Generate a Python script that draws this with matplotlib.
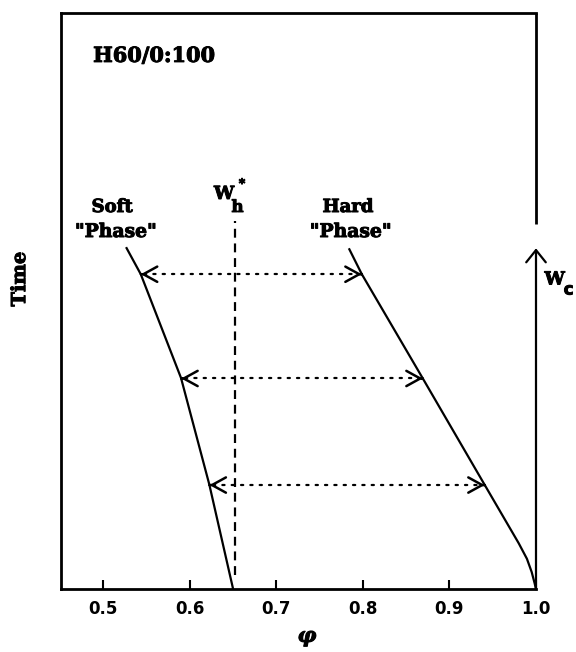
import numpy as np
import matplotlib
matplotlib.use("Agg")
import matplotlib.pyplot as plt
import matplotlib.patheffects as pe

# Composition curves: volume fraction phi versus (normalised) time
soft_phi = [0.650, 0.6224, 0.5897, 0.5432, 0.5262]
soft_time = [0.000, 0.182, 0.367, 0.547, 0.594]

hard_phi = [1.000, 0.9985, 0.9950, 0.9895, 0.9800, 0.9408, 0.8692, 0.7987, 0.7837]
hard_time = [0.000, 0.010, 0.030, 0.053, 0.080, 0.181, 0.366, 0.547, 0.592]

# Tie lines between the two phases
tie_times = [0.547, 0.366, 0.181]

# Critical composition W_h* (dashed) and the W_c axis
wh_star = 0.652
wh_span = [0.025, 0.64]
wc_arrow_top = 0.592
wc_line_bottom = 0.635

xticks = [0.5, 0.6, 0.7, 0.8, 0.9, 1.0]
xtick_labels = ["0.5", "0.6", "0.7", "0.8", "0.9", "1.0"]

serif = "DejaVu Serif"
sans = "DejaVu Sans"
heavy = [pe.withStroke(linewidth=0.7, foreground="black")]

fig = plt.figure(figsize=(5.76, 6.52), dpi=100)
ax = fig.add_axes([61 / 576, 1 - 589.3 / 652, 475 / 576, 576 / 652])
ax.set_xlim(0.451, 1.0)
ax.set_ylim(0, 1)

# curves
ax.plot(soft_phi, soft_time, color="black", lw=1.6, solid_capstyle="butt",
        solid_joinstyle="round")
ax.plot(hard_phi, hard_time, color="black", lw=1.6, solid_capstyle="butt",
        solid_joinstyle="round")

# dashed W_h* line
ax.plot([wh_star, wh_star], wh_span, color="black", lw=1.6,
        linestyle=(0, (4, 2.6)))


def phi_at(phis, times, t):
    order = np.argsort(times)
    return float(np.interp(t, np.asarray(times)[order], np.asarray(phis)[order]))


head = dict(arrowstyle="->,head_length=0.4,head_width=0.22", color="black",
            lw=1.8, shrinkA=0, shrinkB=0, mutation_scale=25)
for t in tie_times:
    xl = phi_at(soft_phi, soft_time, t)
    xr = phi_at(hard_phi, hard_time, t)
    ax.plot([xl + 0.004, xr - 0.004], [t, t], color="black", lw=1.6,
            linestyle=(0, (1, 3.2)), dash_capstyle="round")
    ax.annotate("", xy=(xl, t), xytext=(xl + 0.0005, t), arrowprops=head)
    ax.annotate("", xy=(xr, t), xytext=(xr - 0.0005, t), arrowprops=head)

# spines: right spine is split, lower part becomes the W_c arrow
for s in ["left", "bottom", "top"]:
    ax.spines[s].set_linewidth(2.0)
ax.spines["right"].set_visible(False)
ax.plot([1.0, 1.0], [wc_line_bottom, 1.0], color="black", lw=2.0,
        clip_on=False, solid_capstyle="butt")
ax.annotate("", xy=(1.0, wc_arrow_top), xytext=(1.0, 0.0),
            arrowprops=dict(arrowstyle="->,head_length=0.4,head_width=0.32",
                            color="black", lw=1.6, shrinkA=0, shrinkB=0,
                            mutation_scale=22),
            annotation_clip=False)

ax.set_xticks(xticks)
ax.set_xticklabels(xtick_labels, fontfamily=sans, fontweight="bold",
                   fontsize=12)
ax.set_yticks([])
ax.tick_params(axis="x", direction="in", length=6.5, width=1.5, pad=8,
               top=False)

# labels
txt = dict(fontfamily=serif, fontweight="bold", ha="center", va="center",
           path_effects=heavy)
ax.text(0.4881, 0.926, "H60/0:100", fontsize=15,
        **{**txt, "ha": "left"})
ax.text(0.5100, 0.6637, "Soft", fontsize=13, **txt)
ax.text(0.5141, 0.6203, "\"Phase\"", fontsize=13.5, **txt)
ax.text(0.7826, 0.6637, "Hard", fontsize=13, **txt)
ax.text(0.7855, 0.6203, "\"Phase\"", fontsize=13.5, **txt)

ax.text(0.6394, 0.6863, "W", fontsize=13, **txt)
ax.text(0.6550, 0.6629, "h", fontsize=12, **txt)
ax.text(0.6602, 0.7036, "*", fontsize=9, **txt)

ax.text(1.0215, 0.5378, "W", fontsize=13, clip_on=False, **txt)
ax.text(1.0377, 0.5205, "c", fontsize=12, clip_on=False,
        **{**txt, "fontfamily": sans})

ax.text(0.4038, 0.5387, "Time", fontsize=14, rotation=90, clip_on=False,
        **txt)
fig.text(307 / 576, 1 - 636 / 652, "φ", fontsize=15, fontstyle="italic",
         **txt)

fig.savefig("out.png", dpi=100)
